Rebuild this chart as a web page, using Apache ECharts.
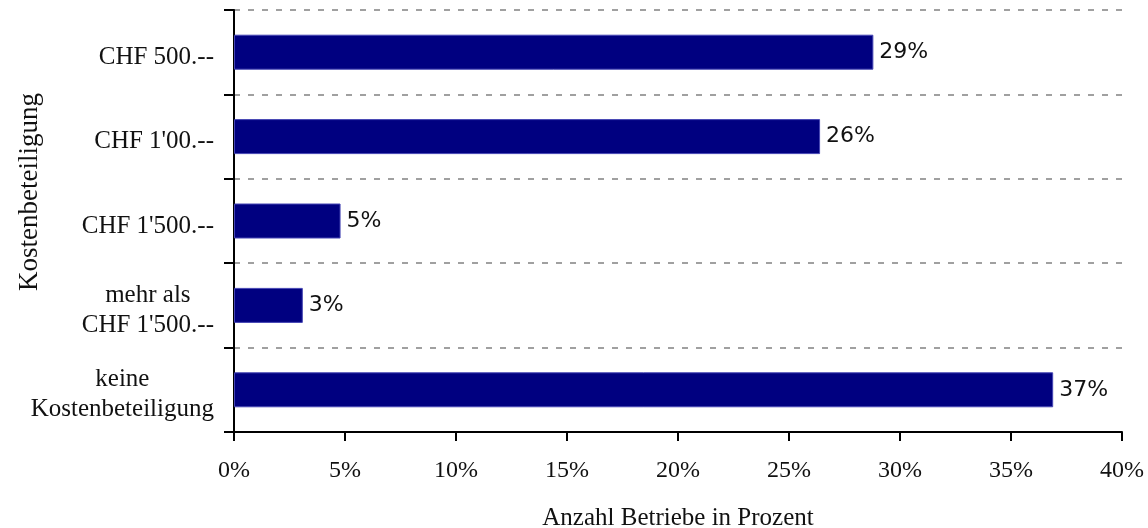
<!DOCTYPE html>
<html>
<head>
<meta charset="UTF-8">
<title>Kostenbeteiligung</title>
<script src="https://cdn.jsdelivr.net/npm/echarts@6/dist/echarts.min.js"></script>
<style>
	html, body { margin: 0; padding: 0; background: #fff; }
	#main { width: 1148px; height: 528px; }
</style>
</head>
<body>
<div id="main"></div>
<script>
	// Kategorien von oben nach unten
	var categories = ['CHF 500.--', "CHF 1'00.--", "CHF 1'500.--", "mehr als\nCHF 1'500.--", 'keine\nKostenbeteiligung'];
	// Anteil Betriebe in Prozent (aus Balkenlänge gelesen)
	var values = [28.8, 26.4, 4.8, 3.1, 36.9];
	var xTicks = { min: 0, max: 40, step: 5 };

	var serif = '"Liberation Serif", "Times New Roman", serif';
	var myChart = echarts.init(document.getElementById('main'));

	var option = {
		animation: false,
		grid: { left: 234, right: 26, top: 10, bottom: 96, containLabel: false, outerBoundsMode: 'none' },
		xAxis: {
			type: 'value',
			min: xTicks.min,
			max: xTicks.max,
			interval: xTicks.step,
			name: 'Anzahl Betriebe in Prozent',
			nameLocation: 'middle',
			nameGap: 74,
			nameMoveOverlap: false,
			nameTextStyle: { fontFamily: serif, fontSize: 25, color: '#111' },
			axisLine: { show: true, lineStyle: { color: '#000', width: 2 } },
			axisTick: { show: true, length: 9, lineStyle: { color: '#000', width: 2 } },
			axisLabel: {
				formatter: '{value}%',
				margin: 27,
				fontFamily: serif,
				fontSize: 24,
				color: '#111'
			},
			splitLine: { show: false }
		},
		yAxis: {
			type: 'category',
			inverse: true,
			data: categories,
			name: 'Kostenbeteiligung',
			nameLocation: 'middle',
			nameGap: 191,
			nameMoveOverlap: false,
			nameTextStyle: { fontFamily: serif, fontSize: 27, color: '#111', padding: [0, 0, 0, 58] },
			axisLine: { show: true, lineStyle: { color: '#000', width: 2 } },
			axisTick: { show: true, length: 10, lineStyle: { color: '#000', width: 2 } },
			axisLabel: {
				margin: 20,
				fontFamily: serif,
				fontSize: 25,
				color: '#111',
				lineHeight: 30,
				padding: [10, 0, 0, 0],
				formatter: function(value) {
					// jede Zeile im Block zentriert
					return value.split('\n').map(function(s) { return '{c|' + s + '}'; }).join('\n');
				},
				rich: {
					c: { align: 'center', fontFamily: serif, fontSize: 25, color: '#111', lineHeight: 30 }
				}
			},
			splitLine: {
				show: true,
				lineStyle: { color: '#a0a0a0', width: 2, type: [6, 8] }
			}
		},
		series: [{
			type: 'bar',
			data: values,
			barWidth: 35,
			itemStyle: { color: '#000080', borderColor: '#4646b4', borderWidth: 1 },
			label: {
				show: true,
				position: 'right',
				distance: 6,
				fontFamily: '"DejaVu Sans", Tahoma, sans-serif',
				fontSize: 22,
				color: '#111',
				formatter: function(p) { return Math.round(p.value) + '%'; }
			}
		}]
	};

	myChart.setOption(option);
</script>
</body>
</html>
